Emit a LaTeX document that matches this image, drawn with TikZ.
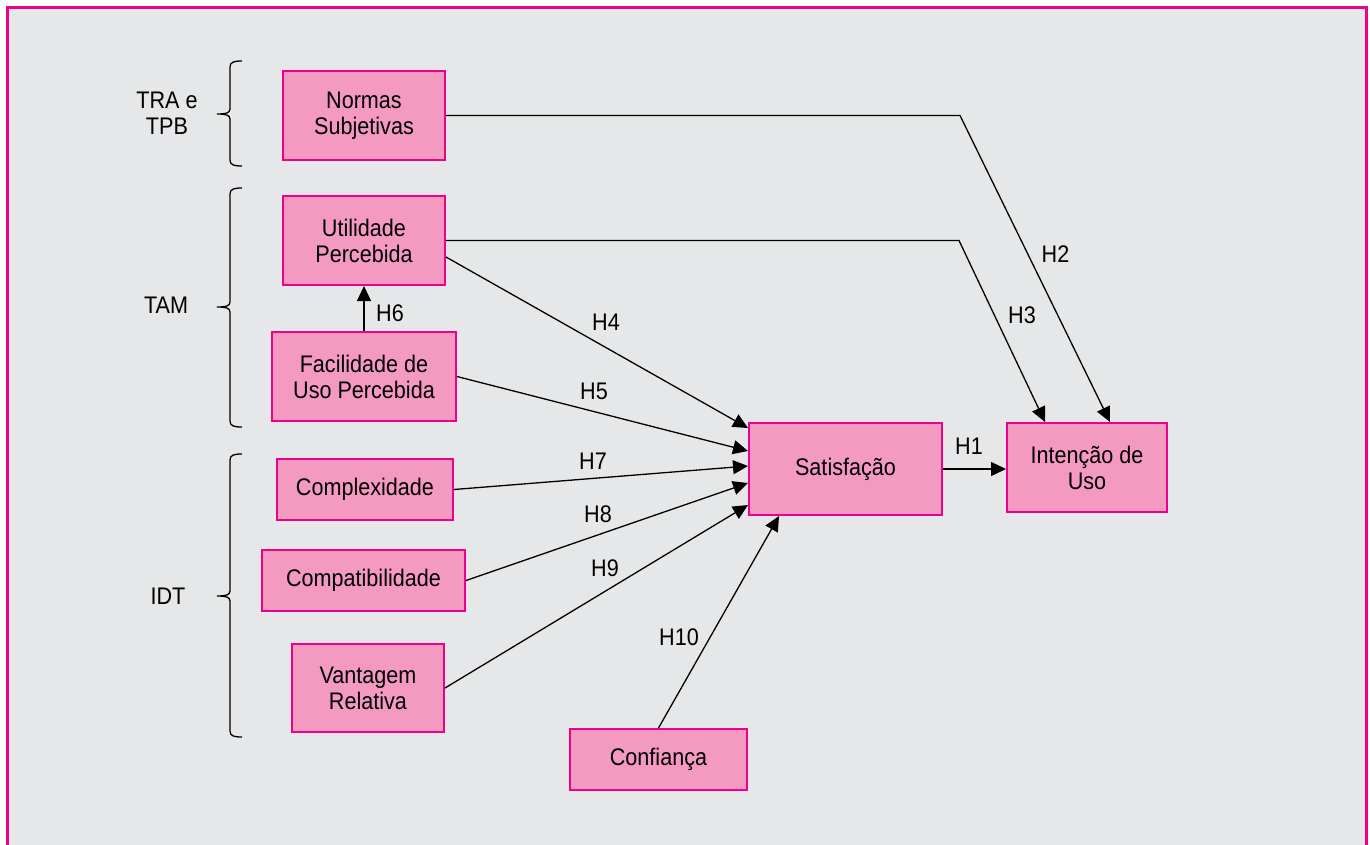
\documentclass[tikz,border=0pt]{standalone}
\usepackage{fontspec}
\setmainfont{Liberation Sans}[FakeStretch=0.9]
\usetikzlibrary{arrows.meta,calc}
\definecolor{framecol}{HTML}{EC008C}
\definecolor{boxfill}{HTML}{F49AC1}
\definecolor{bgcol}{HTML}{E6E7E8}
\begin{document}
\begin{tikzpicture}[x=1pt,y=-1pt,
  cbox/.style={draw=framecol,fill=boxfill,line width=2pt,inner sep=0pt,align=center,font=\fontsize{24}{26}\selectfont},
  lbl/.style={inner sep=0pt,font=\fontsize{24}{26}\selectfont,align=center},
  conn/.style={line width=1.3pt,-{Triangle[length=15pt,width=14pt]}},
  bracepath/.style={line width=1.3pt}]
\useasboundingbox (0,0) rectangle (1370,844);
\clip (0,0) rectangle (1370,844);
\fill[white] (0,0) rectangle (1370,844);
\draw[framecol,fill=bgcol,line width=3pt] (7,7) rectangle (1366,880);

% braces
\foreach \t/\m/\b in {61/114/166,188/307/427,454/596/737}{
  \draw[bracepath] (242,\t) .. controls (234,\t) and (230,\t+1) .. (230,\t+6)
    -- (230,\m-5) .. controls (230,\m-1) and (226,\m) .. (217,\m)
    .. controls (226,\m) and (230,\m+1) .. (230,\m+5)
    -- (230,\b-6) .. controls (230,\b-1) and (234,\b) .. (242,\b);
}
\node[lbl] (ltra) at (167,113) {TRA e\\TPB};
\node[lbl] (ltam) at (166,305) {TAM};
\node[lbl] (lidt) at (168,596) {IDT};

% boxes
\node[cbox,minimum width=162pt,minimum height=89pt] (ns) at (364,115.5) {Normas\\Subjetivas};
\node[cbox,minimum width=162pt,minimum height=89pt] (ut) at (364,240.5) {Utilidade\\Percebida};
\node[cbox,minimum width=184pt,minimum height=89pt] (fa) at (364,376.5) {Facilidade de\\Uso Percebida};
\node[cbox,minimum width=176pt,minimum height=61pt] (co) at (365,489.5) {Complexidade};
\node[cbox,minimum width=203pt,minimum height=61pt] (cp) at (363.5,580.5) {Compatibilidade};
\node[cbox,minimum width=152pt,minimum height=88pt] (vr) at (368,688) {Vantagem\\Relativa};
\node[cbox,minimum width=193pt,minimum height=92pt] (sa) at (845.5,469) {Satisfação};
\node[cbox,minimum width=160pt,minimum height=89pt] (iu) at (1087,467.5) {Intenção de\\Uso};
\node[cbox,minimum width=177pt,minimum height=61pt] (cf) at (658.5,759.5) {Confiança};

% bends
\coordinate (b2) at (960,115.5);
\coordinate (b3) at (959,240.5);

% connectors
\draw[conn] (ns.east) -- (b2) -- ([xshift=23pt]iu.north);
\draw[conn] (ut.east) -- (b3) -- ([xshift=-42pt]iu.north);
\draw[conn] ([yshift=-16.5pt]ut.east) -- ([yshift=-6pt]sa.north west);
\draw[conn] (fa.east) -- ([yshift=18pt]sa.west);
\draw[conn] (fa.north) -- (ut.south);
\draw[conn] (co.east) -- ([yshift=3pt]sa.west);
\draw[conn] (cp.east) -- ([yshift=-14pt]sa.west);
\draw[conn] (vr.east) -- ([yshift=-36pt]sa.west);
\draw[conn] (cf.north) -- ([xshift=-66.5pt]sa.south);
\draw[conn] (sa.east) -- (sa.east -| iu.west);

% labels
\node[lbl] (h1) at (969,446) {H1};
\node[lbl] (h2) at (1055.5,254) {H2};
\node[lbl] (h3) at (1022,315) {H3};
\node[lbl] (h4) at (606,322) {H4};
\node[lbl] (h5) at (594,391) {H5};
\node[lbl] (h6) at (390,313) {H6};
\node[lbl] (h7) at (593,461) {H7};
\node[lbl] (h8) at (598,514) {H8};
\node[lbl] (h9) at (605,568) {H9};
\node[lbl] (h10) at (679,637) {H10};
\end{tikzpicture}
\end{document}
